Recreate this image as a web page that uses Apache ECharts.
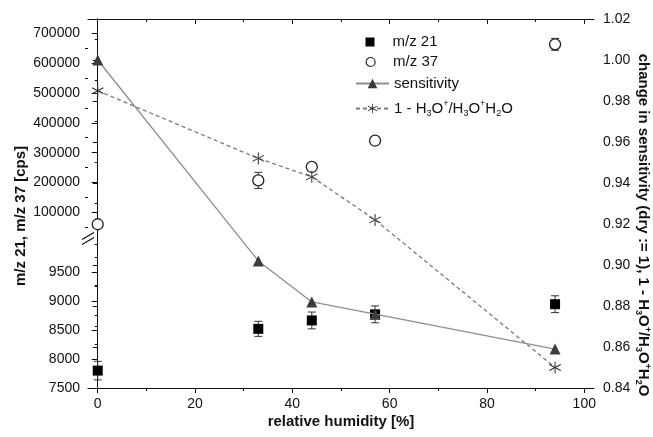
<!DOCTYPE html>
<html><head><meta charset="utf-8">
<script src="https://cdn.jsdelivr.net/npm/echarts@6/dist/echarts.min.js"></script>
<style>html,body{margin:0;padding:0;background:#fff}#c{width:653px;height:437px}</style>
</head><body><div id="c"></div>
<script>
// ---- data ----
const humidity = [0, 33, 44, 57, 94];
const mz21 = [7800, 8520, 8665, 8770, 8945];
const mz21Err = [160, 130, 145, 145, 145];
const mz37 = [60000, 207000, 252000, 340000, 663000];
const mz37Err = [0, 27000, 10000, 8000, 20000];
const sensitivity = [1.000, 0.902, 0.882, 0.876, 0.859];
const h3oRatio = [0.985, 0.952, 0.943, 0.922, 0.850];

const xTicks = [0, 20, 40, 60, 80, 100];
const xMinorTicks = [10, 30, 50, 70, 90];
const upperTicks = [100000, 200000, 300000, 400000, 500000, 600000, 700000];
const upperMinorTicks = [50000, 150000, 250000, 350000, 450000, 550000, 650000];
const lowerTicks = [7500, 8000, 8500, 9000, 9500];

const FONT = '"Liberation Sans", Arial, Helvetica, sans-serif';
const INK = '#111';

const chart = echarts.init(document.getElementById('c'), null, {renderer: 'canvas'});

function pairs(xs, ys) { return xs.map((x, i) => [x, ys[i]]); }

function errBars(xi, yi, xs, ys, es, cap) {
  return {
    type: 'custom', xAxisIndex: xi, yAxisIndex: yi, silent: true, z: 1,
    data: xs.map((x, i) => [x, ys[i] - es[i], ys[i] + es[i]]).filter(d => d[2] > d[1]),
    renderItem: function (params, api) {
      const lo = api.coord([api.value(0), api.value(1)]);
      const hi = api.coord([api.value(0), api.value(2)]);
      const st = {stroke: '#333', lineWidth: 1};
      return {type: 'group', children: [
        {type: 'line', shape: {x1: lo[0], y1: lo[1], x2: hi[0], y2: hi[1]}, style: st},
        {type: 'line', shape: {x1: lo[0] - cap, y1: lo[1], x2: lo[0] + cap, y2: lo[1]}, style: st},
        {type: 'line', shape: {x1: hi[0] - cap, y1: hi[1], x2: hi[0] + cap, y2: hi[1]}, style: st}
      ]};
    }
  };
}

const asterisk = 'path://M9.2,0L10.8,0L10.8,20L9.2,20ZM18.26,15.69L19.06,14.31L1.74,4.31L0.94,5.69ZM19.06,5.69L18.26,4.31L0.94,14.31L1.74,15.69Z';

const axisLine = {show: true, lineStyle: {color: INK, width: 1}};
const labelStyle = {color: '#111', fontSize: 14, fontFamily: FONT, formatter: v => String(v)};
const rich = {
  sub: {fontSize: 9, fontFamily: FONT, lineHeight: 9, padding: [10, 0, 0, 0]},
  sup: {fontSize: 9, fontFamily: FONT, lineHeight: 9, padding: [0, 0, 10, 0]}
};
const h3oRich = '1 - H{sub|3}O{sup|+}/H{sub|3}O{sup|+}H{sub|2}O';

function xAx(grid, extra) {
  return Object.assign({type: 'value', gridIndex: grid, min: -2, max: 102, splitLine: {show: false}}, extra);
}

const option = {
  animation: false,
  backgroundColor: '#fff',
  grid: [
    {left: 88, right: 59, top: 19, height: 213},
    {left: 88, right: 59, top: 243, bottom: 49},
    {left: 88, right: 59, top: 19, bottom: 49}
  ],
  xAxis: [
    xAx(0, {show: false}),
    xAx(1, {show: false}),
    xAx(2, {position: 'bottom', axisLine: axisLine,
      axisTick: {show: true, inside: false, length: 5, customValues: xTicks, lineStyle: {color: INK}},
      axisLabel: Object.assign({customValues: xTicks, margin: 9}, labelStyle)}),
    xAx(2, {position: 'bottom', axisLine: {show: false},
      axisTick: {show: true, inside: false, length: 3, customValues: xMinorTicks, lineStyle: {color: INK}},
      axisLabel: {show: false}}),
    xAx(2, {position: 'top', axisLine: axisLine,
      axisTick: {show: true, inside: true, length: 5, customValues: xTicks, lineStyle: {color: INK}},
      axisLabel: {show: false}}),
    xAx(2, {position: 'top', axisLine: {show: false},
      axisTick: {show: true, inside: true, length: 3, customValues: xMinorTicks, lineStyle: {color: INK}},
      axisLabel: {show: false}})
  ],
  yAxis: [
    {type: 'value', gridIndex: 0, position: 'left', min: 34000, max: 748000, splitLine: {show: false},
      axisLine: axisLine,
      axisTick: {show: true, inside: false, length: 6, customValues: upperTicks, lineStyle: {color: INK}},
      axisLabel: Object.assign({customValues: upperTicks, margin: 8}, labelStyle)},
    {type: 'value', gridIndex: 0, position: 'left', min: 34000, max: 748000, splitLine: {show: false},
      axisLine: {show: false},
      axisTick: {show: true, inside: false, length: 3, customValues: upperMinorTicks, lineStyle: {color: INK}},
      axisLabel: {show: false}},
    {type: 'value', gridIndex: 1, position: 'left', min: 7500, max: 10000, interval: 500, splitLine: {show: false},
      axisLine: axisLine,
      axisTick: {show: true, inside: false, length: 6, customValues: lowerTicks, lineStyle: {color: INK}},
      minorTick: {show: true, splitNumber: 2, length: 3, lineStyle: {color: INK}},
      minorSplitLine: {show: false},
      axisLabel: Object.assign({customValues: lowerTicks, margin: 8}, labelStyle)},
    {type: 'value', gridIndex: 2, position: 'right', min: 0.84, max: 1.02, interval: 0.02, splitLine: {show: false},
      axisLine: axisLine,
      axisTick: {show: true, inside: true, length: 5, lineStyle: {color: INK}},
      minorTick: {show: true, splitNumber: 2, length: 3, lineStyle: {color: INK}},
      minorSplitLine: {show: false},
      axisLabel: Object.assign({}, labelStyle, {margin: 9, formatter: v => v.toFixed(2)})}
  ],
  legend: [
    {data: [{name: 'm/z 21', icon: 'rect', itemStyle: {color: '#000', borderWidth: 0}}],
      left: 365.5, top: 34.5, orient: 'vertical', padding: 0, itemWidth: 9, itemHeight: 9,
      textStyle: {fontSize: 15, fontFamily: FONT, color: '#111', padding: [0, 0, 0, 13]}, selectedMode: false},
    {data: [{name: 'm/z 37', icon: 'circle', itemStyle: {color: '#fff', borderColor: '#222', borderWidth: 1.2}}],
      left: 365.5, top: 54.5, orient: 'vertical', padding: 0, itemWidth: 9, itemHeight: 9,
      textStyle: {fontSize: 15, fontFamily: FONT, color: '#111', padding: [0, 0, 0, 13]}, selectedMode: false},
    {data: ['sensitivity'], left: 355, top: 76, orient: 'vertical', padding: 0, itemWidth: 33, itemHeight: 12,
      textStyle: {fontSize: 15, fontFamily: FONT, color: '#111'}, selectedMode: false},
    {data: ['1 - H3O+/H3O+H2O'], left: 355, top: 99, orient: 'vertical', padding: 0, itemWidth: 33, itemHeight: 12,
      formatter: () => h3oRich,
      textStyle: {fontSize: 15, fontFamily: FONT, color: '#111', rich: rich}, selectedMode: false}
  ],
  series: [
    errBars(1, 2, humidity, mz21, mz21Err, 4),
    {name: 'm/z 21', type: 'scatter', xAxisIndex: 1, yAxisIndex: 2, z: 3,
      symbol: 'rect', symbolSize: 10, itemStyle: {color: '#000', opacity: 1},
      data: pairs(humidity, mz21)},
    errBars(0, 0, humidity, mz37, mz37Err, 4),
    {name: 'm/z 37', type: 'scatter', xAxisIndex: 0, yAxisIndex: 0, z: 3,
      symbol: 'circle', symbolSize: 11,
      itemStyle: {color: '#fff', borderColor: '#222', borderWidth: 1.3, opacity: 1},
      data: pairs(humidity, mz37)},
    {name: 'sensitivity', type: 'line', xAxisIndex: 2, yAxisIndex: 3, z: 4,
      symbol: 'triangle', symbolSize: 11,
      lineStyle: {color: '#8e8e8e', width: 1.3},
      itemStyle: {color: '#3c3c3c'},
      data: pairs(humidity, sensitivity)},
    {name: '1 - H3O+/H3O+H2O', type: 'line', xAxisIndex: 2, yAxisIndex: 3, z: 4,
      symbol: asterisk, symbolSize: 12,
      lineStyle: {color: '#7a7a7a', width: 1.3, type: [4, 3]},
      itemStyle: {color: '#333'},
      data: pairs(humidity, h3oRatio)}
  ],
  graphic: [
    {type: 'line', silent: true, shape: {x1: 82, y1: 239.5, x2: 94, y2: 232.5}, style: {stroke: INK, lineWidth: 1.2}},
    {type: 'line', silent: true, shape: {x1: 82, y1: 244.5, x2: 94, y2: 237.5}, style: {stroke: INK, lineWidth: 1.2}},
    {type: 'text', silent: true, x: 21, y: 216, rotation: Math.PI / 2,
      style: {text: 'm/z 21, m/z 37 [cps]', font: 'bold 15px ' + FONT, fill: '#111', align: 'center', verticalAlign: 'middle'}},
    {type: 'text', silent: true, x: 341, y: 422,
      style: {text: 'relative humidity [%]', font: 'bold 15px ' + FONT, fill: '#111', align: 'center', verticalAlign: 'middle'}},
    {type: 'text', silent: true, x: 643, y: 225, rotation: -Math.PI / 2,
      style: {text: 'change in sensitivity (dry := 1), ' + h3oRich, font: 'bold 15px ' + FONT,
        fontWeight: 'bold', fontSize: 15, fontFamily: FONT,
        fill: '#111', align: 'center', verticalAlign: 'middle',
        rich: {
          sub: {fontSize: 9, fontWeight: 'bold', fontFamily: FONT, lineHeight: 9, padding: [9, 0, 0, 0]},
          sup: {fontSize: 9, fontWeight: 'bold', fontFamily: FONT, lineHeight: 9, padding: [0, 0, 9, 0]}
        }}}
  ]
};
chart.setOption(option);
</script></body></html>
